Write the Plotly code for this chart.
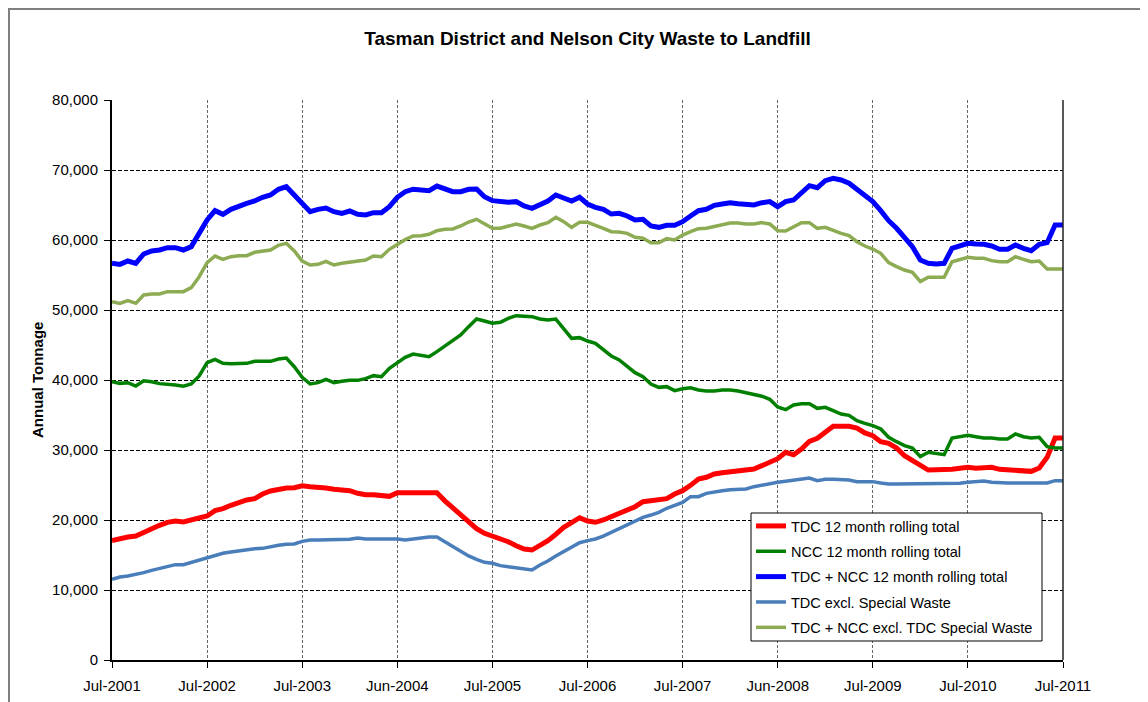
import plotly.graph_objects as go

# Month index 0..120 (Jul-2001 .. Jul-2011)
months = list(range(121))
tick_positions = [0, 12, 24, 36, 48, 60, 72, 84, 96, 108, 120]
tick_labels = ["Jul-2001", "Jul-2002", "Jul-2003", "Jun-2004", "Jul-2005", "Jul-2006",
               "Jul-2007", "Jun-2008", "Jul-2009", "Jul-2010", "Jul-2011"]
y_ticks = [0, 10000, 20000, 30000, 40000, 50000, 60000, 70000, 80000]

tdc_total = [17050, 17380, 17570, 17710, 18240, 18900, 19240, 19670, 19860, 19710,
             19950, 20240, 20570, 21330, 21620, 22100, 22520, 22860, 23050, 23710,
             24140, 24430, 24570, 24620, 24900, 24760, 24710, 24570, 24380, 24240,
             24190, 23810, 23620, 23620, 23570, 23380, 23900, 23900, 23900, 23900,
             23810, 23900, 22740, 21740, 20670, 19760, 18760, 18100, 17710, 17380,
             16900, 16330, 15860, 15710, 16290, 17050, 17950, 18950, 19620, 20330,
             19860, 19670, 20000, 20520, 21050, 21520, 21900, 22620, 22760, 22860,
             23050, 23710, 24190, 24950, 25860, 26100, 26570, 26760, 26900, 26900,
             27050, 27290, 27760, 28260, 28760, 29670, 29330, 30140, 31240, 31670,
             32520, 33380, 33380, 33380, 33140, 32430, 32050, 31190, 30950, 30290,
             29190, 28570, 27860, 27140, 27190, 27190, 27240, 27380, 27520, 27380,
             27520, 27520, 27240, 27140, 27050, 26950, 26950, 27430, 28950, 31710,
             31710]

ncc_total = [39760, 39520, 39620, 39140, 39900, 39760, 39480, 39430, 39290, 39100,
             39430, 40570, 42480, 42950, 42380, 42330, 42330, 42380, 42670, 42670,
             42670, 43000, 43140, 41900, 40380, 39430, 39620, 40100, 39620, 39810,
             39950, 39950, 40190, 40620, 40480, 41670, 42520, 43240, 43710, 43520,
             43330, 44050, 44810, 45620, 46430, 47620, 48710, 48430, 48100, 48240,
             48810, 49190, 49140, 49050, 48710, 48570, 48710, 47380, 45950, 46050,
             45570, 45240, 44380, 43430, 42860, 42000, 41050, 40480, 39430, 38950,
             39050, 38480, 38760, 38900, 38570, 38430, 38430, 38570, 38570, 38430,
             38190, 37900, 37690, 37240, 36150, 35760, 36430, 36620, 36620, 35950,
             36100, 35620, 35140, 34950, 34190, 33810, 33480, 33000, 31810, 31190,
             30620, 30290, 29050, 29670, 29520, 29330, 31710, 31900, 32100, 31900,
             31710, 31710, 31570, 31570, 32290, 31900, 31710, 31810, 30480, 30290,
             30290]

combined_total = [56670, 56520, 57000, 56670, 58000, 58430, 58570, 58900, 58900, 58570,
                  59050, 60950, 62860, 64190, 63670, 64380, 64860, 65240, 65570, 66100,
                  66430, 67240, 67620, 66430, 65140, 64050, 64380, 64570, 64050, 63810,
                  64140, 63670, 63570, 63900, 63900, 64760, 66100, 66900, 67260, 67240,
                  67050, 67710, 67290, 66900, 66900, 67240, 67290, 66190, 65620, 65480,
                  65380, 65480, 64860, 64520, 65000, 65570, 66430, 65950, 65570, 66100,
                  65140, 64670, 64380, 63710, 63810, 63430, 62860, 62950, 62000, 61810,
                  62100, 62100, 62620, 63430, 64190, 64380, 64950, 65140, 65330, 65190,
                  65140, 65000, 65330, 65480, 64760, 65480, 65710, 66760, 67760, 67480,
                  68480, 68810, 68570, 68100, 67240, 66190, 65480, 64190, 62760, 61670,
                  60240, 59050, 57140, 56670, 56570, 56670, 58810, 59140, 59520, 59430,
                  59380, 59140, 58670, 58670, 59290, 58810, 58480, 59380, 59620, 62140,
                  62140]

tdc_excl_special = [11520, 11860, 12000, 12190, 12480, 12810, 13100, 13330, 13620, 13620,
                    13950, 14330, 14620, 14950, 15240, 15430, 15620, 15760, 15900, 15950,
                    16190, 16380, 16520, 16570, 16950, 17140, 17140, 17140, 17140, 17140,
                    17240, 17430, 17290, 17290, 17290, 17290, 17290, 17140, 17290, 17430,
                    17570, 17570, 16900, 16150, 15480, 14860, 14380, 13950, 13810, 13480,
                    13330, 13190, 13050, 12860, 13570, 14140, 14860, 15480, 16100, 16760,
                    17050, 17290, 17710, 18240, 18810, 19290, 19760, 20380, 20710, 21100,
                    21670, 22140, 22520, 23330, 23330, 23810, 24050, 24190, 24330, 24330,
                    24430, 24760, 25000, 25190, 25380, 25520, 25710, 25860, 26000, 25620,
                    25810, 25810, 25810, 25710, 25480, 25480, 25480, 25290, 25140, 25140,
                    25140, 25140, 25140, 25140, 25140, 25140, 25240, 25240, 25380, 25430,
                    25570, 25380, 25290, 25290, 25290, 25290, 25290, 25290, 25290, 25620,
                    25620]

combined_excl_special = [51190, 50950, 51330, 50950, 52140, 52290, 52290, 52620, 52620, 52620,
                         53190, 54760, 56760, 57710, 57240, 57620, 57760, 57760, 58240, 58430,
                         58570, 59240, 59520, 58430, 57000, 56430, 56520, 56950, 56430, 56670,
                         56810, 56900, 57140, 57710, 57620, 58670, 59380, 60050, 60570, 60620,
                         60810, 61330, 61520, 61570, 62000, 62570, 62950, 62240, 61670, 61670,
                         62000, 62290, 62000, 61670, 62140, 62480, 63240, 62620, 61810, 62520,
                         62520, 62140, 61670, 61190, 61140, 60950, 60380, 60240, 59620, 59620,
                         60190, 60000, 60710, 61190, 61620, 61670, 61900, 62240, 62430, 62430,
                         62290, 62290, 62480, 62290, 61330, 61290, 61900, 62480, 62480, 61670,
                         61810, 61330, 60950, 60620, 59760, 59140, 58710, 58100, 56760, 56190,
                         55710, 55380, 54050, 54670, 54670, 54670, 56900, 57240, 57520, 57380,
                         57380, 57050, 56900, 56900, 57620, 57240, 56900, 57000, 55860, 55860,
                         55860]

series = [
    ("TDC 12 month rolling total", tdc_total, "#FF0000", 5),
    ("NCC 12 month rolling total", ncc_total, "#008000", 3.5),
    ("TDC + NCC 12 month rolling total", combined_total, "#0000FF", 5),
    ("TDC excl. Special Waste", tdc_excl_special, "#4A7EBB", 3.5),
    ("TDC + NCC excl. TDC Special Waste", combined_excl_special, "#8DAB52", 3.5),
]

FONT = "Liberation Sans, Arial, sans-serif"

fig = go.Figure()
for i, (name, vals, color, width) in enumerate(series):
    fig.add_trace(go.Scatter(x=months, y=vals, mode="lines", name=name,
                             legendgroup="g%d" % i,
                             line=dict(color=color, width=width)))

# The page body has an 8px margin, so the figure starts at page (8, 8).
OFF = 8
W, H = 1140, 694
L, R, T, B = 104, 85, 92, 42
pw, ph = W - L - R, H - T - B


def px_x(page_px):
    return (page_px - OFF - L) / pw


def px_y(page_py):
    return (H - B - (page_py - OFF)) / ph


fig.update_layout(
    width=W, height=H,
    margin=dict(l=L, r=R, t=T, b=B, autoexpand=False),
    paper_bgcolor="white", plot_bgcolor="white",
    font=dict(family=FONT, color="black", size=15),
    title=dict(text="<b>Tasman District and Nelson City Waste to Landfill</b>",
               x=0.5, xref="paper", xanchor="center",
               y=1 - (38 - OFF) / H, yref="container", yanchor="middle",
               font=dict(family=FONT, size=19, color="black")),
    showlegend=True,
    legend=dict(x=px_x(751), y=px_y(510), xanchor="left", yanchor="top",
                bgcolor="rgba(0,0,0,0)", borderwidth=0,
                font=dict(family=FONT, size=14.5, color="black"),
                traceorder="grouped", tracegroupgap=3.5),
    xaxis=dict(range=[0, 120], tickmode="array", tickvals=tick_positions,
               ticktext=tick_labels, showgrid=True, gridcolor="#666666",
               griddash="3px,2px", gridwidth=1, automargin=False,
               showline=True, linecolor="black", linewidth=2,
               ticks="outside", ticklen=6, tickcolor="black", tickwidth=1,
               ticklabelstandoff=5,
               tickfont=dict(family=FONT, size=15), zeroline=False),
    yaxis=dict(range=[0, 80000], tickmode="array", tickvals=y_ticks,
               tickformat=",d", showgrid=True, gridcolor="black",
               griddash="4px,2px", gridwidth=1, automargin=False,
               showline=True, linecolor="black", linewidth=2,
               ticks="outside", ticklen=6, tickcolor="black", tickwidth=1,
               ticklabelstandoff=3,
               tickfont=dict(family=FONT, size=15), zeroline=False),
    annotations=[dict(text="<b>Annual Tonnage</b>", textangle=-90,
                      x=px_x(37), y=0.5, xref="paper", yref="paper",
                      xanchor="center", yanchor="middle", showarrow=False,
                      font=dict(family=FONT, size=15, color="black"))],
    shapes=[
        dict(type="rect", xref="paper", yref="paper",
             x0=px_x(9), x1=px_x(1170), y0=px_y(720), y1=px_y(9),
             line=dict(color="#7f7f7f", width=2), layer="below"),
        dict(type="line", xref="paper", yref="paper", x0=1, x1=1, y0=0, y1=1,
             line=dict(color="#222222", width=1.5)),
        dict(type="rect", xref="paper", yref="paper",
             x0=px_x(751), x1=px_x(1042), y0=px_y(641), y1=px_y(513),
             fillcolor="white", line=dict(color="black", width=1), layer="above"),
    ],
)

fig.write_html("out.html")
